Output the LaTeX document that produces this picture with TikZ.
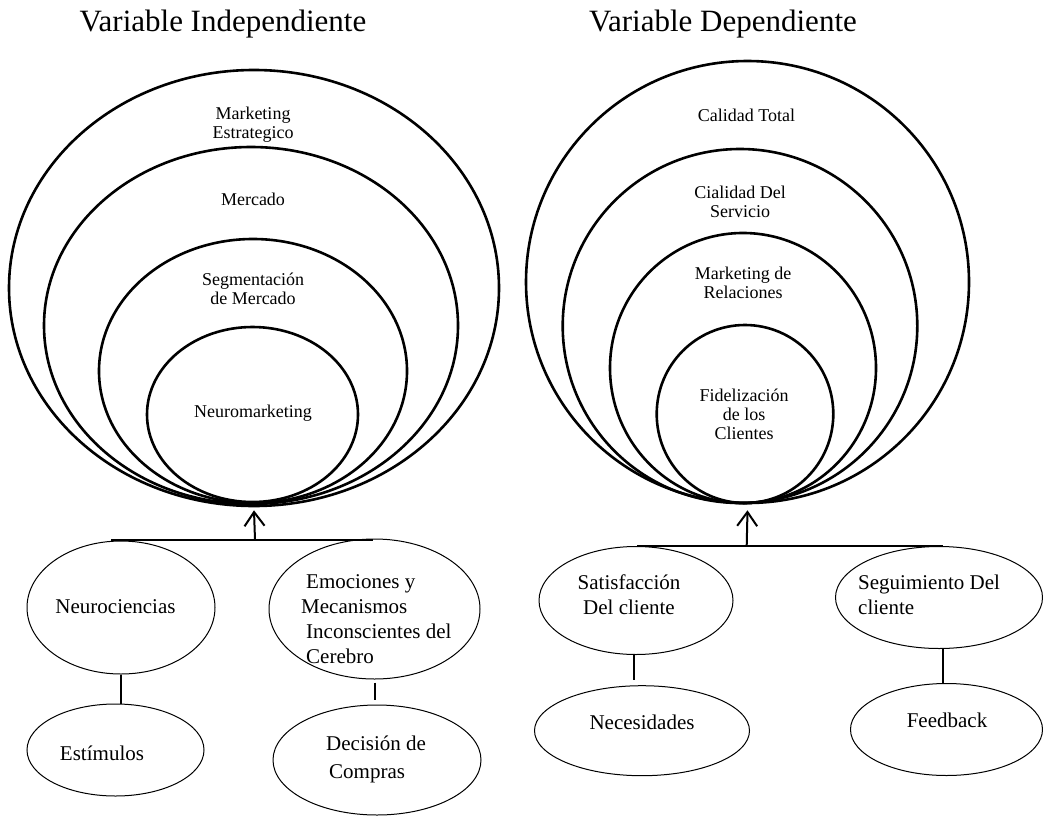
\documentclass[tikz,border=0pt]{standalone}
\usepackage{fontspec}
\setmainfont{Liberation Serif}
\usetikzlibrary{shapes.geometric,arrows.meta,calc}

\tikzset{
  ring/.style={draw, ellipse, line width=2.6pt, inner sep=0pt},
  bubble/.style={draw, ellipse, line width=1pt, inner sep=0pt},
  heading/.style={font=\fontsize{31}{36}\selectfont, inner sep=0pt},
  ringtext/.style={font=\fontsize{18}{19}\selectfont, align=center, inner sep=0pt},
  bubbletext/.style={font=\fontsize{21}{25}\selectfont, inner sep=0pt},
  link/.style={line width=2pt},
  upto/.style={line width=2pt, -{Straight Barb[length=14pt,width=20pt]}},
}

\begin{document}
\begin{tikzpicture}[x=1pt, y=-1pt]
\useasboundingbox (0,0) rectangle (1043,816);

% ---------- headings ----------
\node[heading] (hIndep) at (223,24) {Variable Independiente};
\node[heading] (hDep)   at (723,24) {Variable Dependiente};

% ---------- nested rings: independent variable ----------
\node[ring, minimum width=490pt, minimum height=436pt] (L1) at (254,288) {};
\node[ring, minimum width=414pt, minimum height=357pt] (L2) at (251,325.5) {};
\node[ring, minimum width=308pt, minimum height=264pt] (L3) at (253,371) {};
\node[ring, minimum width=211pt, minimum height=175pt] (L4) at (252.5,414.5) {};

\node[ringtext] (tL1) at (253,124.5) {Marketing\\Estrategico};
\node[ringtext] (tL2) at (253,199) {Mercado};
\node[ringtext] (tL3) at (253,289) {Segmentación\\de Mercado};
\node[ringtext] (tL4) at (253,413) {Neuromarketing};

% ---------- nested rings: dependent variable ----------
\node[ring, minimum width=443pt, minimum height=442pt] (R1) at (747.5,282) {};
\node[ring, minimum width=354.6pt, minimum height=354pt] (R2) at (740,326) {};
\node[ring, minimum width=266pt, minimum height=270pt] (R3) at (743,368) {};
\node[ring, minimum width=176.6pt, minimum height=178pt] (R4) at (745,414) {};

\node[ringtext] (tR1) at (746.5,115) {Calidad Total};
\node[ringtext] (tR2) at (740,202) {Cialidad Del\\Servicio};
\node[ringtext] (tR3) at (743,282.5) {Marketing de\\Relaciones};
\node[ringtext] (tR4) at (744,414) {Fidelización\\de los\\Clientes};

% ---------- dimensions: independent variable ----------
\node[bubble, minimum width=188pt, minimum height=133pt] (neuro) at (121,607.5) {};
\node[bubble, minimum width=211pt, minimum height=140pt] (emo)   at (374.5,609) {};
\node[bubble, minimum width=177pt, minimum height=92pt]  (estim) at (115.5,750) {};
\node[bubble, minimum width=208pt, minimum height=110pt] (dec)   at (377,760) {};

\node[bubbletext] (tNeuro) at (115.5,607) {Neurociencias};
\node[bubbletext, align=left, anchor=west] (tEmo) at (301,619.5)
  {\hspace*{5pt}Emociones y\\Mecanismos\\\hspace*{5pt}Inconscientes del\\\hspace*{5pt}Cerebro};
\node[bubbletext] (tEstim) at (102,753) {Estímulos};
\node[bubbletext, align=left, anchor=west] (tDec) at (326,759)
  {Decisión de\\[3pt]\hspace*{3pt}Compras};

\coordinate (barL1) at (111,540);
\coordinate (barL2) at (373,540);
\coordinate (barLm) at (255,540);
\draw[link] (barL1) -- (barL2);
\draw[upto] (barLm) -- ([yshift=-3pt]L1.south);
\draw[link] (neuro.south) -- (neuro.south |- estim.north);
\draw[link, shorten <=3pt, shorten >=5pt] (emo.south) -- (emo.south |- dec.north);

% ---------- dimensions: dependent variable ----------
\node[bubble, minimum width=194pt, minimum height=108pt] (satis) at (636,600.5) {};
\node[bubble, minimum width=207pt, minimum height=102pt] (segui) at (939,597.5) {};
\node[bubble, minimum width=215pt, minimum height=90pt]  (neces) at (642,730.7) {};
\node[bubble, minimum width=192pt, minimum height=92pt]  (feed)  at (946.5,729.5) {};

\node[bubbletext, align=center] (tSatis) at (629,594.5) {Satisfacción\\Del cliente};
\node[bubbletext, align=left, anchor=west] (tSegui) at (858,594.5) {Seguimiento Del\\cliente};
\node[bubbletext] (tNeces) at (642,722) {Necesidades};
\node[bubbletext] (tFeed)  at (947,720) {Feedback};

\coordinate (barR1) at (637,545.7);
\coordinate (barR2) at (943,545.7);
\coordinate (barRm) at (746.7,545.7);
\draw[link] (barR1) -- (barR2);
\draw[upto] (barRm) -- ([yshift=-6pt]R1.south);
\draw[link, shorten >=5pt] ([xshift=-2pt]satis.south) -- ([xshift=-2pt]satis.south |- neces.north);
\draw[link] ([xshift=4pt]segui.south) -- ([xshift=4pt]segui.south |- feed.north);

\end{tikzpicture}
\end{document}
